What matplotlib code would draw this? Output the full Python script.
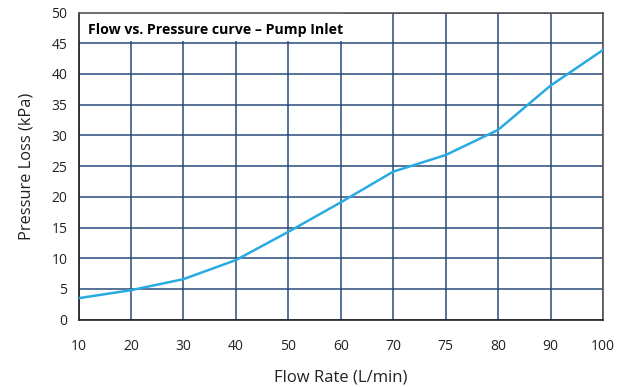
import matplotlib.pyplot as plt
from matplotlib.patches import Rectangle

# valeurs
flow_labels = ['10', '20', '30', '40', '50', '60', '70', '75', '80', '90', '100']
pressure_loss = [3.5, 4.8, 6.6, 9.7, 14.3, 19.1, 24.1, 26.8, 30.9, 38.1, 43.9]
y_ticks = [0, 5, 10, 15, 20, 25, 30, 35, 40, 45, 50]

plt.rcParams['font.family'] = ['Open Sans', 'DejaVu Sans']

fig = plt.figure(figsize=(6.26, 3.87), dpi=100)
ax = fig.add_axes([78.5 / 626, (387 - 319.7) / 387, (603 - 78.5) / 626, (319.7 - 12.5) / 387])

x = list(range(len(flow_labels)))
ax.plot(x, pressure_loss, color='#29abe2', lw=1.8, zorder=3)

ax.set_xlim(0, len(flow_labels) - 1)
ax.set_ylim(0, 50)
ax.set_xticks(x)
ax.set_xticklabels(flow_labels)
ax.set_yticks(y_ticks)
ax.tick_params(length=0, labelsize=10, colors='#222222')
ax.tick_params(axis='x', pad=14)
ax.tick_params(axis='y', pad=8)

ax.grid(True, color='#2a4a7a', lw=1.1, zorder=1)
for s in ax.spines.values():
    s.set_color('#555555')
    s.set_linewidth(1.2)
ax.spines['left'].set_color('#222222')
ax.spines['bottom'].set_color('#222222')

ax.set_xlabel('Flow Rate (L/min)', fontsize=12, labelpad=11, color='#222222')
ax.set_ylabel('Pressure Loss (kPa)', fontsize=11.8, labelpad=12, color='#222222')

# cadre blanc du titre, en haut à gauche
ax.add_patch(Rectangle((0, 45.3), 5.04, 4.7, facecolor='white', edgecolor='none', zorder=2))
ax.text(0.018, 0.942, 'Flow vs. Pressure curve \u2013 Pump Inlet', transform=ax.transAxes,
        fontsize=10.2, fontweight='bold', va='center', ha='left', zorder=4)

plt.savefig('out.png', dpi=100)
